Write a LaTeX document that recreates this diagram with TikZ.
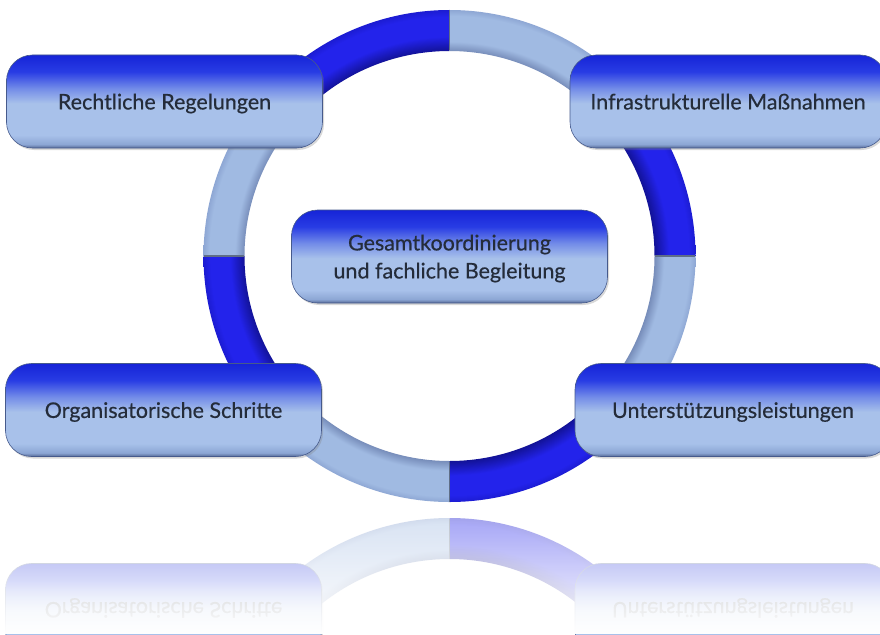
\documentclass[tikz,border=0pt]{standalone}
\usepackage{fontspec}
\setmainfont{Lato}[FakeBold=0.5]
\usetikzlibrary{fadings,shadows}

\definecolor{txt}{RGB}{36,44,58}
\definecolor{dkin}{RGB}{18,18,150}
\definecolor{dkmid}{RGB}{35,35,235}
\definecolor{dkout}{RGB}{28,28,210}
\definecolor{ltin}{RGB}{118,140,185}
\definecolor{ltmid}{RGB}{160,186,226}
\definecolor{ltout}{RGB}{142,167,212}
\definecolor{sepcol}{RGB}{95,110,135}
\definecolor{bxa}{RGB}{85,105,150}
\definecolor{bxb}{RGB}{140,166,212}
\definecolor{bxc}{RGB}{168,193,234}
\definecolor{bxd}{RGB}{115,140,232}
\definecolor{bxe}{RGB}{40,60,228}
\definecolor{bxf}{RGB}{22,36,215}
\definecolor{bxborder}{RGB}{70,90,140}

% TikZ shows the central 50bp of a 100bp shading
\pgfdeclareradialshading{ringdark}{\pgfpoint{0bp}{0bp}}{color(0bp)=(dkin); color(20.8bp)=(dkin); color(22.3bp)=(dkmid); color(24.3bp)=(dkmid); color(25bp)=(dkout); color(50bp)=(dkout)}
\pgfdeclareradialshading{ringlight}{\pgfpoint{0bp}{0bp}}{color(0bp)=(ltin); color(20.8bp)=(ltin); color(21.8bp)=(ltmid); color(24.4bp)=(ltmid); color(25bp)=(ltout); color(50bp)=(ltout)}
\pgfdeclareverticalshading{boxsh}{100bp}{color(0bp)=(bxa); color(25bp)=(bxa); color(27bp)=(bxb); color(32bp)=(bxc); color(49bp)=(bxc); color(57bp)=(bxd); color(66bp)=(bxe); color(75bp)=(bxf); color(100bp)=(bxf)}

\tikzfading[name=reflfade, top color=transparent!45, middle color=transparent!12, bottom color=transparent!0]

\newcommand\ringsector[2]{%
  \begin{scope}
    \clip (-#1:246) arc[start angle=-#1, end angle=-#1-45, radius=246]
      -- (-#1-45:205) arc[start angle=-#1-45, end angle=-#1, radius=205] -- cycle;
    \shade[shading=#2] (0,0) circle[radius=246];
  \end{scope}}

\newcommand\drawring{%
  \begin{scope}[shift={(449.5,256)}]
    \foreach \a in {0,90,180,270} {\ringsector{\a}{ringdark}}
    \foreach \a in {45,135,225,315} {\ringsector{\a}{ringlight}}
    \foreach \a in {0,45,...,315} {\draw[sepcol, line width=1.4pt] (-\a:205.5) -- (-\a:245.5);}
  \end{scope}}

\tikzset{
  stepbox/.style={shade, shading=boxsh, draw=bxborder, line width=0.6pt,
    rounded corners=26pt, minimum width=316pt, minimum height=93pt,
    inner sep=0pt, text=txt, align=center, text depth=0pt,
    font=\fontsize{21.5}{28}\selectfont,
    drop shadow={opacity=0.3, shadow xshift=1.5pt, shadow yshift=-2pt}},
}

\begin{document}
\begin{tikzpicture}[x=1pt,y=-1pt]
\useasboundingbox (0,0) rectangle (880,634);
\fill[white] (0,0) rectangle (880,634);

\drawring

\node[stepbox] (rr) at (164.5,101.5) {Rechtliche Regelungen};
\node[stepbox] (im) at (728,101.5) {Infrastrukturelle Maßnahmen};
\node[stepbox] (os) at (163.5,410) {Organisatorische Schritte};
\node[stepbox] (ul) at (733,410) {Unterstützungsleistungen};
\node[stepbox] (gf) at (449.5,256.5) {Gesamtkoordinierung\\und fachliche Begleitung};

% reflection
\begin{scope}
  \clip (0,506) rectangle (880,634);
  \begin{scope}[shift={(0,1020)}, yscale=-1, transform shape]
    \drawring
    \node[stepbox] (osr) at (163.5,410) {Organisatorische Schritte};
    \node[stepbox] (ulr) at (733,410) {Unterstützungsleistungen};
  \end{scope}
  \fill[white, path fading=reflfade] (0,505) rectangle (880,634);
\end{scope}
\end{tikzpicture}
\end{document}
